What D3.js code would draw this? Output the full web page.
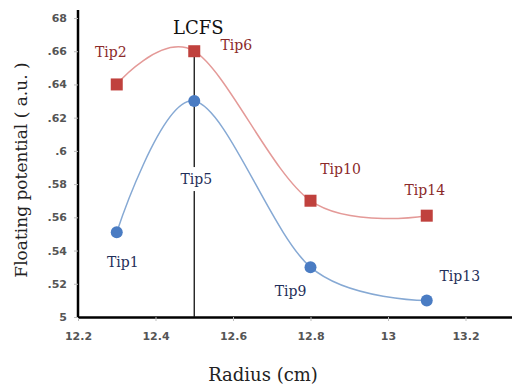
<!DOCTYPE html>
<html>
<head>
<meta charset="utf-8">
<script src="https://cdn.jsdelivr.net/npm/d3@7"></script>
<style>
  body { margin: 0; background: #fff; }
  svg { display: block; }
</style>
</head>
<body>
<div id="chart"></div>
<script>
// data
var radius = [12.3, 12.5, 12.8, 13.1];
var blueValues = [0.551, 0.63, 0.53, 0.51];
var redValues = [0.64, 0.66, 0.57, 0.561];
var blueNames = ["Tip1", "Tip5", "Tip9", "Tip13"];
var redNames = ["Tip2", "Tip6", "Tip10", "Tip14"];
var xTicks = [12.2, 12.4, 12.6, 12.8, 13, 13.2];
var xTickLabels = ["12.2", "12.4", "12.6", "12.8", "13", "13.2"];
var yTicks = [0.5, 0.52, 0.54, 0.56, 0.58, 0.6, 0.62, 0.64, 0.66, 0.68];
var yTickLabels = ["5", ".52", ".54", ".56", ".58", ".6", ".62", ".64", ".66", "68"];
var lcfsRadius = 12.5;

// label offsets (pixels) for each point label
var blueOffsets = [[6, 35], [2, 83], [-20, 29], [33, -19]];
var redOffsets = [[-6, -27], [42, -1], [30, -27], [-2, -21]];

var width = 512, height = 388;
var margin = {top: 10, right: 0, bottom: 71, left: 78};

var svg = d3.select("#chart").append("svg")
    .attr("width", width)
    .attr("height", height);

var x = d3.scaleLinear().domain([12.2, 13.32]).range([margin.left, width - margin.right]);
var y = d3.scaleLinear().domain([0.5, 0.68]).range([height - margin.bottom, 18]);

var serif = "'DejaVu Serif', 'Liberation Serif', serif";

// x axis
var xAxis = svg.append("g")
    .attr("transform", "translate(0," + y(0.5) + ")")
    .call(d3.axisBottom(x).tickValues(xTicks).tickSize(4).tickSizeOuter(0)
        .tickFormat(function(d, i) { return xTickLabels[i]; }));
xAxis.select(".domain").attr("stroke", "#000").attr("stroke-width", 2.5);
xAxis.selectAll(".tick line").attr("stroke", "#bbb");
xAxis.selectAll(".tick text")
    .attr("dy", "1.45em")
    .attr("fill", "#555")
    .style("font", "bold 11px 'DejaVu Sans', sans-serif");

// y axis
var yAxis = svg.append("g")
    .attr("transform", "translate(" + margin.left + ",0)")
    .call(d3.axisLeft(y).tickValues(yTicks).tickSize(4).tickSizeOuter(0)
        .tickFormat(function(d, i) { return yTickLabels[i]; }));
yAxis.select(".domain").attr("stroke", "#000").attr("stroke-width", 2.5)
    .attr("d", "M0," + (y(0.5) + 1) + "V" + (margin.top));
yAxis.selectAll(".tick line").attr("stroke", "#bbb");
yAxis.selectAll(".tick text")
    .attr("x", -11)
    .attr("fill", "#555")
    .style("font", "bold 11px 'DejaVu Sans', sans-serif");

// axis titles
svg.append("text")
    .attr("x", 263)
    .attr("y", 381)
    .attr("text-anchor", "middle")
    .style("font", "18px " + serif)
    .attr("fill", "#222")
    .text("Radius (cm)");

svg.append("text")
    .attr("transform", "translate(27,170) rotate(-90)")
    .attr("text-anchor", "middle")
    .style("font", "17px " + serif)
    .attr("fill", "#222")
    .text("Floating potential ( a.u. )");

// LCFS marker line
svg.append("line")
    .attr("x1", x(lcfsRadius)).attr("x2", x(lcfsRadius))
    .attr("y1", y(0.66)).attr("y2", y(0.5))
    .attr("stroke", "#111")
    .attr("stroke-width", 1.3);

svg.append("text")
    .attr("x", x(lcfsRadius) + 4)
    .attr("y", 34)
    .attr("text-anchor", "middle")
    .style("font", "18px " + serif)
    .attr("fill", "#111")
    .text("LCFS");

var line = d3.line()
    .curve(d3.curveCardinal.tension(0))
    .x(function(d) { return x(d[0]); })
    .y(function(d) { return y(d[1]); });

function series(values) {
  return radius.map(function(r, i) { return [r, values[i]]; });
}

var red = series(redValues), blue = series(blueValues);

svg.append("path")
    .attr("d", line(red))
    .attr("fill", "none")
    .attr("stroke", "#e49a98")
    .attr("stroke-width", 1.5);

svg.append("path")
    .attr("d", line(blue))
    .attr("fill", "none")
    .attr("stroke", "#86a9d4")
    .attr("stroke-width", 1.5);

// markers
svg.selectAll(".sq").data(red).enter().append("rect")
    .attr("class", "sq")
    .attr("x", function(d) { return x(d[0]) - 6; })
    .attr("y", function(d) { return y(d[1]) - 6; })
    .attr("width", 12).attr("height", 12)
    .attr("fill", "#c0413d");

svg.selectAll(".dot").data(blue).enter().append("circle")
    .attr("class", "dot")
    .attr("cx", function(d) { return x(d[0]); })
    .attr("cy", function(d) { return y(d[1]); })
    .attr("r", 6)
    .attr("fill", "#4a7cc3");

// point labels (white box behind so the LCFS line breaks around Tip5)
var bg = svg.append("g");

svg.selectAll(".rlab").data(red).enter().append("text")
    .attr("class", "rlab")
    .attr("x", function(d, i) { return x(d[0]) + redOffsets[i][0]; })
    .attr("y", function(d, i) { return y(d[1]) + redOffsets[i][1]; })
    .attr("text-anchor", "middle")
    .style("font", "14px " + serif)
    .attr("fill", "#8b2a2a")
    .text(function(d, i) { return redNames[i]; });

svg.selectAll(".blab").data(blue).enter().append("text")
    .attr("class", "blab")
    .attr("x", function(d, i) { return x(d[0]) + blueOffsets[i][0]; })
    .attr("y", function(d, i) { return y(d[1]) + blueOffsets[i][1]; })
    .attr("text-anchor", "middle")
    .style("font", "14px " + serif)
    .attr("fill", "#1f2f5a")
    .text(function(d, i) { return blueNames[i]; })
    .each(function(d, i) {
      if (d[0] !== lcfsRadius) return;
      var b = this.getBBox();
      bg.append("rect")
          .attr("x", b.x - 2).attr("y", b.y - 4)
          .attr("width", b.width + 4).attr("height", b.height + 8)
          .attr("fill", "#fff");
    });
</script>
</body>
</html>
